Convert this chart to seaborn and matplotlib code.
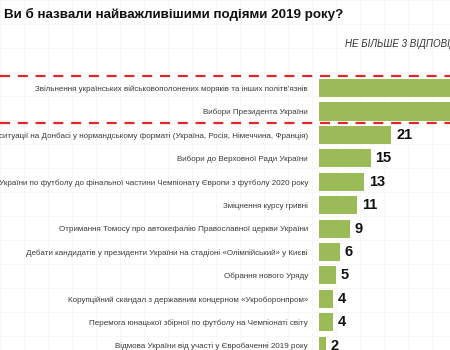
import matplotlib
matplotlib.use("Agg")
import matplotlib.pyplot as plt
import matplotlib.transforms as mtransforms
import seaborn as sns
import pandas as pd

categories = [
    "Звільнення українських військовополонених моряків та інших політв’язнів",
    "Вибори Президента України",
    "Переговори щодо врегулювання ситуації на Донбасі у нормандському форматі (Україна, Росія, Німеччина, Франція)",
    "Вибори до Верховної Ради України",
    "Вихід збірної України по футболу до фінальної частини Чемпіонату Європи з футболу 2020 року",
    "Зміцнення курсу гривні",
    "Отримання Томосу про автокефалію Православної церкви України",
    "Дебати кандидатів у президенти України на стадіоні «Олімпійський» у Києві",
    "Обрання нового Уряду",
    "Корупційний скандал з державним концерном «Укроборонпром»",
    "Перемога юнацької збірної по футболу на Чемпіонаті світу",
    "Відмова України від участі у Євробаченні 2019 року",
]
values = [45, 42, 21, 15, 13, 11, 9, 6, 5, 4, 4, 2]

title = "Ви б назвали найважливішими подіями 2019 року?"
subtitle = "НЕ БІЛЬШЕ 3 ВІДПОВІДЕЙ"

sns.set_theme(style="white")
plt.rcParams["font.family"] = ["Liberation Sans", "DejaVu Sans"]

W, H = 450, 350
fig = plt.figure(figsize=(W / 100, H / 100), dpi=100)
fig.patch.set_facecolor("white")

# faint background grid of the slide
bg = fig.add_axes([0, 0, 1, 1], zorder=-5)
bg.set_xlim(0, W)
bg.set_ylim(H, 0)
for gx in range(0, W, 24):
    bg.axvline(gx, color="#f6f6f6", lw=0.6)
for gy in range(0, H, 24):
    bg.axhline(gy, color="#f6f6f6", lw=0.6)
bg.axis("off")

x0 = 319
ax_top = 60
ax = fig.add_axes([x0 / W, 0, (W - x0) / W, 1 - ax_top / H])
ax.patch.set_alpha(0)

df = pd.DataFrame({"cat": categories, "val": values})
sns.barplot(data=df, y="cat", x="val", orient="h", color="#9BBB59",
            saturation=1, width=0.77, ax=ax, edgecolor="none")

xmax = 38.0
ax.set_xlim(0, xmax)
ax.set_ylim(11.19, -1.2)
ax.set_xlabel("")
ax.set_ylabel("")
ax.set_xticks([])
for s in ax.spines.values():
    s.set_visible(False)
ax.tick_params(axis="y", length=0, pad=8)
for lab in ax.get_yticklabels():
    lab.set_fontsize(5.8)
    lab.set_color("#3a3a3a")

for i, v in enumerate(values):
    if v + 1.4 < xmax:
        ax.text(v + 1.4, i, str(v), va="center", ha="left", fontsize=10.5,
                fontweight="bold", color="#111111")

# red dashed separators across the whole slide
trans = mtransforms.blended_transform_factory(fig.transFigure, ax.transData)
for yy in (-0.5, 1.5):
    ax.plot([0, 1], [yy, yy], transform=trans, color="#E0262B", lw=1.6,
            ls=(0, (4.5, 3.5)), clip_on=False, zorder=5)

fig.text(4 / W, 1 - 14 / H, title, fontsize=9.6, fontweight="bold",
         color="#111111", va="center", ha="left")
fig.text(345 / W, 1 - 43 / H, subtitle, fontsize=7, style="italic",
         color="#333333", va="center", ha="left")

fig.savefig("out.png", dpi=100, facecolor="white")
